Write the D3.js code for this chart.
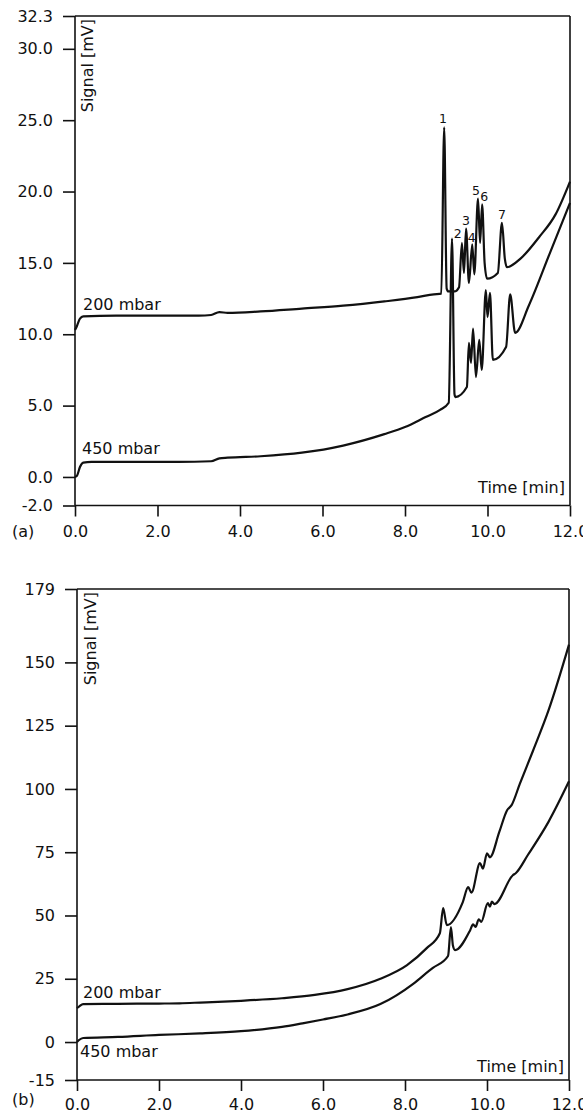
<!DOCTYPE html>
<html>
<head>
<meta charset="utf-8">
<script src="https://cdn.jsdelivr.net/npm/d3@7"></script>
<style>
body { margin: 0; background: #fff; }
svg { display: block; }
</style>
</head>
<body>
<svg width="583" height="1110"></svg>
<script>
'use strict';

/* global d3 */

var timeTicks = [0, 2, 4, 6, 8, 10, 12];
var signalTicksA = [-2, 0, 5, 10, 15, 20, 25, 30, 32.3];
var signalTicksB = [-15, 0, 25, 50, 75, 100, 125, 150, 179];

// [time min, signal mV]
var trace200A = [
    [0, 10.3], [0.05, 10.6], [0.12, 11.1], [0.2, 11.25], [1, 11.3], [2, 11.3],
    [3, 11.3], [3.3, 11.35], [3.5, 11.55], [3.7, 11.5], [4.5, 11.6], [5.5, 11.8],
    [6.5, 12.0], [7.5, 12.3], [8.3, 12.6], [8.7, 12.8], [8.88, 12.85], [8.95, 24.5],
    [9.01, 13.2], [9.05, 13.0], [9.2, 13.0], [9.31, 13.3], [9.38, 16.4], [9.43, 14.3],
    [9.48, 17.4], [9.55, 13.6], [9.63, 16.3], [9.68, 14.2], [9.77, 19.5], [9.82, 16.4],
    [9.87, 19.1], [9.93, 15.0], [9.99, 13.9], [10.25, 14.3], [10.35, 17.8], [10.42, 15.3],
    [10.47, 14.7], [10.8, 15.3], [11.25, 16.8], [11.65, 18.4], [12, 20.7]
];
var trace450A = [
    [0, 0], [0.05, 0.1], [0.12, 0.7], [0.2, 1.0], [0.4, 1.05], [1.5, 1.05],
    [2.5, 1.05], [3.3, 1.1], [3.5, 1.3], [3.7, 1.35], [4.5, 1.45], [5.5, 1.7],
    [6.5, 2.2], [7.5, 3.0], [8.0, 3.5], [8.5, 4.2], [8.85, 4.7], [9.06, 5.2],
    [9.14, 16.7], [9.2, 5.8], [9.22, 5.6], [9.5, 6.3], [9.55, 9.4], [9.6, 8.0],
    [9.65, 10.4], [9.72, 7.0], [9.8, 9.6], [9.86, 7.5], [9.96, 13.1], [10.0, 11.2],
    [10.06, 12.9], [10.13, 8.2], [10.45, 9.1], [10.55, 12.8], [10.67, 10.1],
    [11.0, 12.0], [11.5, 15.6], [12, 19.2]
];
var trace200B = [
    [0, 13.4], [0.05, 14.0], [0.15, 15.0], [1, 15.1], [2, 15.2], [2.5, 15.3],
    [3, 15.6], [4, 16.3], [5, 17.3], [5.8, 18.6], [6.6, 20.9], [7.4, 25.0],
    [8.05, 30.4], [8.53, 37.1], [8.85, 43.0], [8.93, 52.9], [9.02, 46.2], [9.41, 55.3],
    [9.54, 61.2], [9.62, 59.0], [9.83, 70.7], [9.9, 68.5], [10.0, 74.6], [10.07, 73.0],
    [10.3, 83.0], [10.49, 91.6], [10.6, 93.6], [10.8, 102.0], [11.12, 115.0],
    [11.5, 131.0], [12, 157.0]
];
var trace450B = [
    [0, 0], [0.05, 0.8], [0.15, 1.6], [1, 2.0], [2, 2.8], [3, 3.4],
    [4, 4.3], [5, 6.0], [5.5, 7.4], [6, 8.9], [6.6, 10.9], [7.4, 15.0],
    [8.2, 23.0], [8.6, 28.3], [8.68, 29.3], [9.05, 34.0], [9.12, 45.4], [9.17, 38.0],
    [9.22, 36.3], [9.59, 44.2], [9.66, 46.5], [9.72, 45.5], [9.8, 48.5], [9.86, 47.5],
    [10.02, 54.9], [10.07, 53.5], [10.12, 55.5], [10.18, 54.5], [10.63, 65.9],
    [10.7, 66.7], [11.0, 74.0], [11.5, 87.0], [12, 103.0]
];

// peak numbers on the 200 mbar trace of (a): label anchor in data units
var peakNames = ["1", "2", "3", "4", "5", "6", "7"];
var peakTimes = [8.92, 9.28, 9.48, 9.62, 9.72, 9.92, 10.35];
var peakSignals = [24.8, 16.75, 17.66, 16.47, 19.76, 19.34, 18.08];

var svg = d3.select("svg");
var ink = "#111";
var font = "'DejaVu Sans', 'Liberation Sans', sans-serif";

function drawPanel(p) {
    var x = d3.scaleLinear().domain([0, 12]).range([p.x0, p.x1]);
    var y = d3.scaleLinear().domain(p.yDomain).range([p.yBottom, p.yTop]);
    var g = svg.append("g").style("color", ink);

    g.append("g")
        .attr("transform", "translate(" + p.x0 + ",0)")
        .call(d3.axisLeft(y).tickValues(p.yTicks).tickSize(12).tickPadding(10).tickFormat(p.fmt))
        .call(function (a) { a.select(".domain").remove(); });

    g.append("g")
        .attr("transform", "translate(0," + p.yBottom + ")")
        .call(d3.axisBottom(x).tickValues(timeTicks).tickSize(11).tickPadding(p.xPad)
            .tickFormat(function (d) { return d.toFixed(1); }))
        .call(function (a) { a.select(".domain").remove(); });

    g.selectAll(".tick line").attr("stroke-width", 1.6);
    g.selectAll(".tick text")
        .attr("font-size", 16)
        .attr("font-family", font)
        .attr("fill", ink);

    // frame
    var frame = [
        [p.x0, p.yTop, p.x1, p.yTop],
        [p.x0, p.yBottom, p.x1, p.yBottom],
        [p.x0, p.yTop, p.x0, p.yBottom],
        [p.x1, p.yTop, p.x1, p.yBottom]
    ];
    g.selectAll("line.frame")
        .data(frame)
        .enter()
        .append("line")
        .attr("class", "frame")
        .attr("x1", function (d) { return d[0]; })
        .attr("y1", function (d) { return d[1]; })
        .attr("x2", function (d) { return d[2]; })
        .attr("y2", function (d) { return d[3]; })
        .attr("stroke", ink)
        .attr("stroke-width", 1.6);

    var line = d3.line()
        .x(function (d) { return x(d[0]); })
        .y(function (d) { return y(d[1]); })
        .curve(d3.curveMonotoneX);

    g.selectAll("path.trace")
        .data(p.traces)
        .enter()
        .append("path")
        .attr("class", "trace")
        .attr("d", line)
        .attr("fill", "none")
        .attr("stroke", ink)
        .attr("stroke-width", 2.2)
        .attr("stroke-linejoin", "round");

    function label(txt, tx, ty, anchor, size) {
        return g.append("text")
            .attr("x", tx)
            .attr("y", ty)
            .attr("text-anchor", anchor || "start")
            .attr("font-size", size || 16)
            .attr("font-family", font)
            .attr("fill", ink)
            .text(txt);
    }

    label("Signal [mV]", 0, 0, "end")
        .attr("transform", "translate(" + p.signalX + "," + (p.yTop + 3) + ") rotate(-90)");
    label("Time [min]", p.x1 - 5, p.timeY, "end");
    label(p.tag, 12, p.tagY);
    label("200 mbar", p.lab200[0], p.lab200[1]);
    label("450 mbar", p.lab450[0], p.lab450[1]);

    return { x: x, y: y, g: g };
}

var a = drawPanel({
    x0: 75, x1: 570, yTop: 16, yBottom: 505.5,
    yDomain: [-2, 32.3], yTicks: signalTicksA,
    fmt: function (d) { return d.toFixed(1); },
    xPad: 9, traces: [trace200A, trace450A],
    signalX: 93, timeY: 493, tag: "(a)", tagY: 537,
    lab200: [83, 310], lab450: [82, 454]
});

a.g.selectAll("text.peak")
    .data(peakNames)
    .enter()
    .append("text")
    .attr("class", "peak")
    .attr("x", function (d, i) { return a.x(peakTimes[i]); })
    .attr("y", function (d, i) { return a.y(peakSignals[i]); })
    .attr("text-anchor", "middle")
    .attr("font-size", 12.5)
    .attr("font-family", font)
    .attr("fill", ink)
    .text(function (d) { return d; });

drawPanel({
    x0: 77, x1: 569, yTop: 589, yBottom: 1080,
    yDomain: [-15, 179], yTicks: signalTicksB,
    fmt: function (d) { return String(d); },
    xPad: 7.6, traces: [trace200B, trace450B],
    signalX: 96, timeY: 1072, tag: "(b)", tagY: 1105,
    lab200: [83, 998], lab450: [80, 1057]
});
</script>
</body>
</html>
